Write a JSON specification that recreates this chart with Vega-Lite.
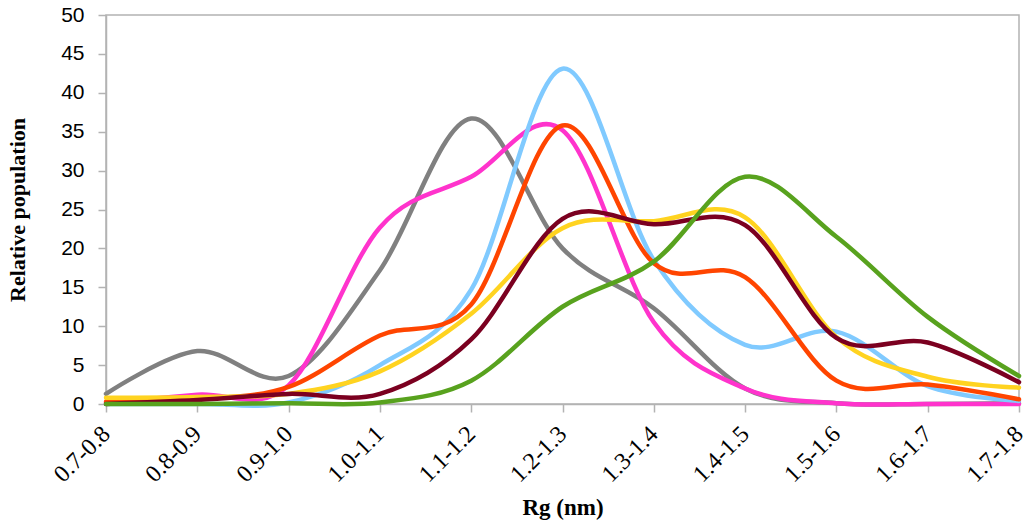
{
  "$schema": "https://vega.github.io/schema/vega-lite/v6.json",
  "width": 913,
  "height": 389,
  "autosize": {"type": "none"},
  "padding": {"left": 106, "top": 15, "right": 8, "bottom": 120},
  "background": "white",
  "config": {
    "view": {"stroke": "#B3B3B3", "strokeWidth": 1.5},
    "axis": {"grid": false, "domainColor": "#B3B3B3", "tickColor": "#B3B3B3", "domainWidth": 1.5, "tickWidth": 1.5, "labelColor": "black", "titleColor": "black"}
  },
  "data": {
    "values": [
      {"rg": "0.7-0.8", "series": "A", "value": 1.3}, {"rg": "0.8-0.9", "series": "A", "value": 6.8}, {"rg": "0.9-1.0", "series": "A", "value": 3.6}, {"rg": "1.0-1.1", "series": "A", "value": 17.2}, {"rg": "1.1-1.2", "series": "A", "value": 36.7}, {"rg": "1.2-1.3", "series": "A", "value": 20}, {"rg": "1.3-1.4", "series": "A", "value": 12.3}, {"rg": "1.4-1.5", "series": "A", "value": 2}, {"rg": "1.5-1.6", "series": "A", "value": 0.1}, {"rg": "1.6-1.7", "series": "A", "value": 0}, {"rg": "1.7-1.8", "series": "A", "value": 0.1},
      {"rg": "0.7-0.8", "series": "B", "value": 0.2}, {"rg": "0.8-0.9", "series": "B", "value": 1.2}, {"rg": "0.9-1.0", "series": "B", "value": 2.4}, {"rg": "1.0-1.1", "series": "B", "value": 22.7}, {"rg": "1.1-1.2", "series": "B", "value": 29.2}, {"rg": "1.2-1.3", "series": "B", "value": 35.2}, {"rg": "1.3-1.4", "series": "B", "value": 10.5}, {"rg": "1.4-1.5", "series": "B", "value": 2}, {"rg": "1.5-1.6", "series": "B", "value": 0.1}, {"rg": "1.6-1.7", "series": "B", "value": 0}, {"rg": "1.7-1.8", "series": "B", "value": 0},
      {"rg": "0.7-0.8", "series": "C", "value": 0}, {"rg": "0.8-0.9", "series": "C", "value": 0}, {"rg": "0.9-1.0", "series": "C", "value": 0.2}, {"rg": "1.0-1.1", "series": "C", "value": 5}, {"rg": "1.1-1.2", "series": "C", "value": 14.7}, {"rg": "1.2-1.3", "series": "C", "value": 43.1}, {"rg": "1.3-1.4", "series": "C", "value": 18.5}, {"rg": "1.4-1.5", "series": "C", "value": 7.6}, {"rg": "1.5-1.6", "series": "C", "value": 9.3}, {"rg": "1.6-1.7", "series": "C", "value": 2.3}, {"rg": "1.7-1.8", "series": "C", "value": 0.4},
      {"rg": "0.7-0.8", "series": "D", "value": 0.3}, {"rg": "0.8-0.9", "series": "D", "value": 0.6}, {"rg": "0.9-1.0", "series": "D", "value": 2.2}, {"rg": "1.0-1.1", "series": "D", "value": 8.8}, {"rg": "1.1-1.2", "series": "D", "value": 12.8}, {"rg": "1.2-1.3", "series": "D", "value": 35.8}, {"rg": "1.3-1.4", "series": "D", "value": 18.1}, {"rg": "1.4-1.5", "series": "D", "value": 16.3}, {"rg": "1.5-1.6", "series": "D", "value": 3}, {"rg": "1.6-1.7", "series": "D", "value": 2.5}, {"rg": "1.7-1.8", "series": "D", "value": 0.6},
      {"rg": "0.7-0.8", "series": "E", "value": 0.8}, {"rg": "0.8-0.9", "series": "E", "value": 0.9}, {"rg": "0.9-1.0", "series": "E", "value": 1.3}, {"rg": "1.0-1.1", "series": "E", "value": 4.2}, {"rg": "1.1-1.2", "series": "E", "value": 11.6}, {"rg": "1.2-1.3", "series": "E", "value": 22.6}, {"rg": "1.3-1.4", "series": "E", "value": 23.5}, {"rg": "1.4-1.5", "series": "E", "value": 24}, {"rg": "1.5-1.6", "series": "E", "value": 8.6}, {"rg": "1.6-1.7", "series": "E", "value": 3.5}, {"rg": "1.7-1.8", "series": "E", "value": 2.1},
      {"rg": "0.7-0.8", "series": "F", "value": 0}, {"rg": "0.8-0.9", "series": "F", "value": 0.5}, {"rg": "0.9-1.0", "series": "F", "value": 1.3}, {"rg": "1.0-1.1", "series": "F", "value": 1.3}, {"rg": "1.1-1.2", "series": "F", "value": 8.3}, {"rg": "1.2-1.3", "series": "F", "value": 23.8}, {"rg": "1.3-1.4", "series": "F", "value": 23.1}, {"rg": "1.4-1.5", "series": "F", "value": 23}, {"rg": "1.5-1.6", "series": "F", "value": 8.5}, {"rg": "1.6-1.7", "series": "F", "value": 7.9}, {"rg": "1.7-1.8", "series": "F", "value": 2.8},
      {"rg": "0.7-0.8", "series": "G", "value": 0}, {"rg": "0.8-0.9", "series": "G", "value": 0}, {"rg": "0.9-1.0", "series": "G", "value": 0.1}, {"rg": "1.0-1.1", "series": "G", "value": 0.2}, {"rg": "1.1-1.2", "series": "G", "value": 3}, {"rg": "1.2-1.3", "series": "G", "value": 12.5}, {"rg": "1.3-1.4", "series": "G", "value": 18.3}, {"rg": "1.4-1.5", "series": "G", "value": 29.2}, {"rg": "1.5-1.6", "series": "G", "value": 21.5}, {"rg": "1.6-1.7", "series": "G", "value": 11.2}, {"rg": "1.7-1.8", "series": "G", "value": 3.6}
    ]
  },
  "mark": {"type": "line", "interpolate": "cardinal", "tension": 0, "strokeCap": "round"},
  "encoding": {
    "x": {
      "field": "rg", "type": "ordinal",
      "scale": {"type": "point", "padding": 0},
      "axis": {
        "title": "Rg (nm)", "titleFont": "Liberation Serif", "titleFontSize": 23, "titleFontWeight": "bold", "titlePadding": 10,
        "labelFont": "Liberation Serif", "labelFontSize": 24, "labelAngle": -45, "labelAlign": "right", "labelBaseline": "middle", "labelPadding": 18,
        "tickSize": 8, "labelOverlap": false, "labelBound": false, "labelFlush": false
      }
    },
    "y": {
      "field": "value", "type": "quantitative",
      "scale": {"domain": [0, 50], "nice": false, "zero": true},
      "axis": {
        "title": "Relative population", "titleFont": "Liberation Serif", "titleFontSize": 22, "titleFontWeight": "bold", "titlePadding": 31,
        "labelFont": "Liberation Sans", "labelFontSize": 21, "values": [0, 5, 10, 15, 20, 25, 30, 35, 40, 45, 50], "tickSize": 8, "labelPadding": 14
      }
    },
    "color": {
      "field": "series", "type": "nominal", "legend": null,
      "scale": {"domain": ["G", "E", "F", "D", "C", "B", "A"], "range": ["#58A21E", "#FFD320", "#7B0020", "#FF4500", "#80CAFF", "#FF33CC", "#808080"]}
    },
    "strokeWidth": {
      "field": "series", "type": "nominal", "legend": null,
      "scale": {"domain": ["G", "E", "F", "D", "C", "B", "A"], "range": [4.5, 4.5, 4.5, 4.5, 4.5, 3, 3]}
    },
    "order": {"field": "rg"}
  }
}
